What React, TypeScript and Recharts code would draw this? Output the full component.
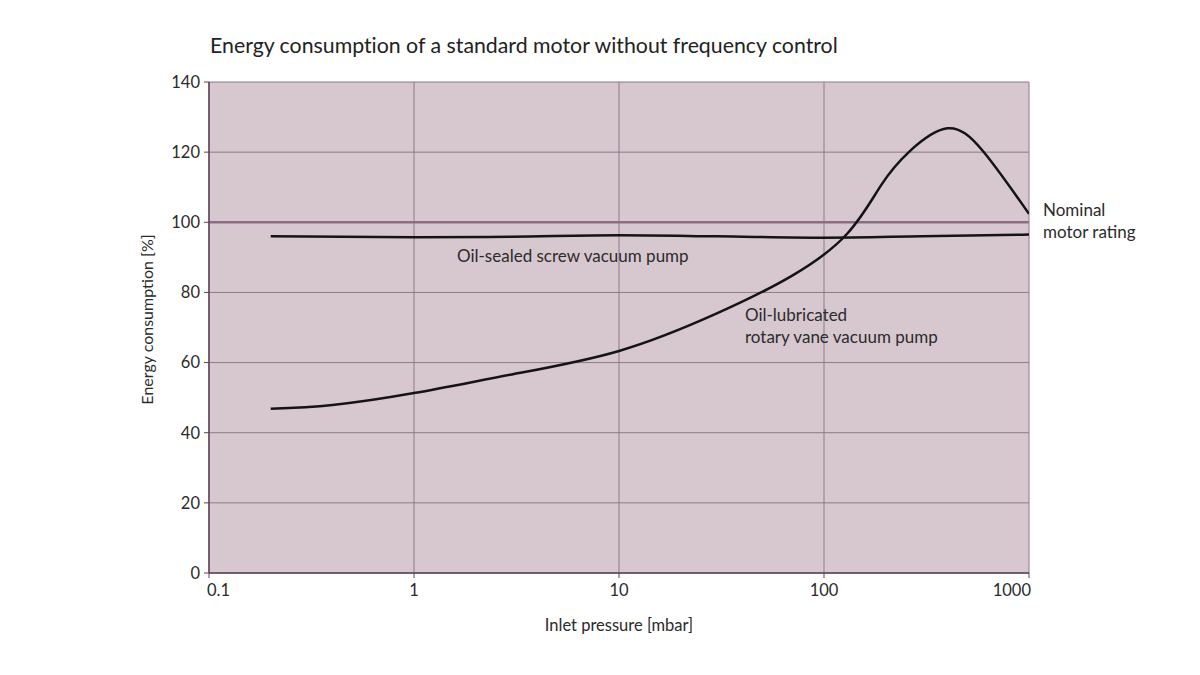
import { CartesianGrid, Label, Line, LineChart, ReferenceLine, XAxis, YAxis } from 'recharts';

// inlet pressure [mbar] on a log axis, energy consumption [% of nominal motor rating]
const screwPressure = [0.2, 1, 3, 10, 30, 100, 300, 1000];
const screwEnergy = [96.0, 95.7, 95.9, 96.3, 96.0, 95.6, 96.0, 96.5];

const vanePressure = [0.2, 0.4, 1, 3, 10, 30, 70, 130, 190, 260, 400, 600, 1000];
const vaneEnergy = [46.8, 47.9, 51.3, 56.6, 63.3, 74.0, 84.8, 96.8, 110.6, 120.1, 126.8, 120.1, 102.4];

const xTicks = [0.1, 1, 10, 100, 1000];
const yTicks = [0, 20, 40, 60, 80, 100, 120, 140];

const FONT = 'Lato, "Open Sans", sans-serif';
const TEXT = '#2b2b2b';
const PLOT_BG = '#d7c8cf';
const GRID = '#8e7987';
const AXIS = '#5c4257';

const screwData = screwPressure.map((p, i) => ({ p, v: screwEnergy[i] }));
const vaneData = vanePressure.map((p, i) => ({ p, v: vaneEnergy[i] }));

// first and last pressure labels sit inside the axis ends, as in the print
const PressureTick = (props: any) => {
  const { x, y, payload, index } = props;
  const anchor = index === 0 ? 'start' : index === xTicks.length - 1 ? 'end' : 'middle';
  const dx = index === 0 ? -2 : index === xTicks.length - 1 ? 2 : 0;
  return (
    <text
      x={x + dx}
      y={y}
      dy="0.71em"
      textAnchor={anchor}
      fill={TEXT}
      fontSize={16.5}
      fontFamily={FONT}
    >
      {payload.value}
    </text>
  );
};

const note = (left: number, top: number, lines: string[]) => (
  <div
    style={{
      position: 'absolute',
      left,
      top,
      fontFamily: FONT,
      fontSize: 17,
      lineHeight: '22px',
      color: TEXT,
      whiteSpace: 'nowrap',
    }}
  >
    {lines.map((l) => (
      <div key={l}>{l}</div>
    ))}
  </div>
);

export default function App() {
  return (
    <div style={{ position: 'relative', width: 1200, height: 675, margin: -8, background: '#fff' }}>
      <div
        style={{
          position: 'absolute',
          left: 210,
          top: 32,
          fontFamily: FONT,
          fontSize: 21.3,
          fontVariantLigatures: 'none',
          color: '#222',
          whiteSpace: 'nowrap',
        }}
      >
        Energy consumption of a standard motor without frequency control
      </div>

      <LineChart
        width={1200}
        height={675}
        margin={{ top: 82, right: 171, bottom: 62, left: 149 }}
        style={{ position: 'absolute', left: 0, top: 0 }}
      >
        <CartesianGrid
          stroke={GRID}
          strokeWidth={1}
          fill={PLOT_BG}
          fillOpacity={1}
          horizontalValues={yTicks}
          verticalValues={xTicks}
        />
        <XAxis
          dataKey="p"
          type="number"
          scale="log"
          domain={[0.1, 1000]}
          ticks={xTicks}
          allowDataOverflow
          height={40}
          tickSize={5}
          tickMargin={6}
          stroke={AXIS}
          tick={<PressureTick />}
          axisLine={{ stroke: AXIS, strokeWidth: 1.5 }}
          tickLine={{ stroke: AXIS }}
        >
          <Label
            value="Inlet pressure [mbar]"
            position="bottom"
            offset={6}
            style={{ fill: TEXT, fontSize: 16.5, fontFamily: FONT }}
          />
        </XAxis>
        <YAxis
          type="number"
          domain={[0, 140]}
          ticks={yTicks}
          width={60}
          tickSize={5}
          tickMargin={4}
          stroke={AXIS}
          tick={{ fill: TEXT, fontSize: 16.5, fontFamily: FONT }}
          axisLine={{ stroke: AXIS, strokeWidth: 1.5 }}
          tickLine={{ stroke: AXIS }}
        >
          <Label
            value="Energy consumption [%]"
            angle={-90}
            position="insideLeft"
            offset={-2}
            dy={-8}
            style={{ fill: TEXT, fontSize: 16, fontFamily: FONT, textAnchor: 'middle' }}
          />
        </YAxis>
        <ReferenceLine y={100} stroke="#8a6f83" strokeWidth={2.5} />
        <Line
          data={screwData}
          dataKey="v"
          type="monotone"
          stroke="#141414"
          strokeWidth={2.5}
          dot={false}
          isAnimationActive={false}
        />
        <Line
          data={vaneData}
          dataKey="v"
          type="natural"
          stroke="#141414"
          strokeWidth={2.5}
          dot={false}
          isAnimationActive={false}
        />
      </LineChart>

      {note(457, 245, ['Oil-sealed screw vacuum pump'])}
      {note(745, 304, ['Oil-lubricated', 'rotary vane vacuum pump'])}
      {note(1043, 199, ['Nominal', 'motor rating'])}
    </div>
  );
}
